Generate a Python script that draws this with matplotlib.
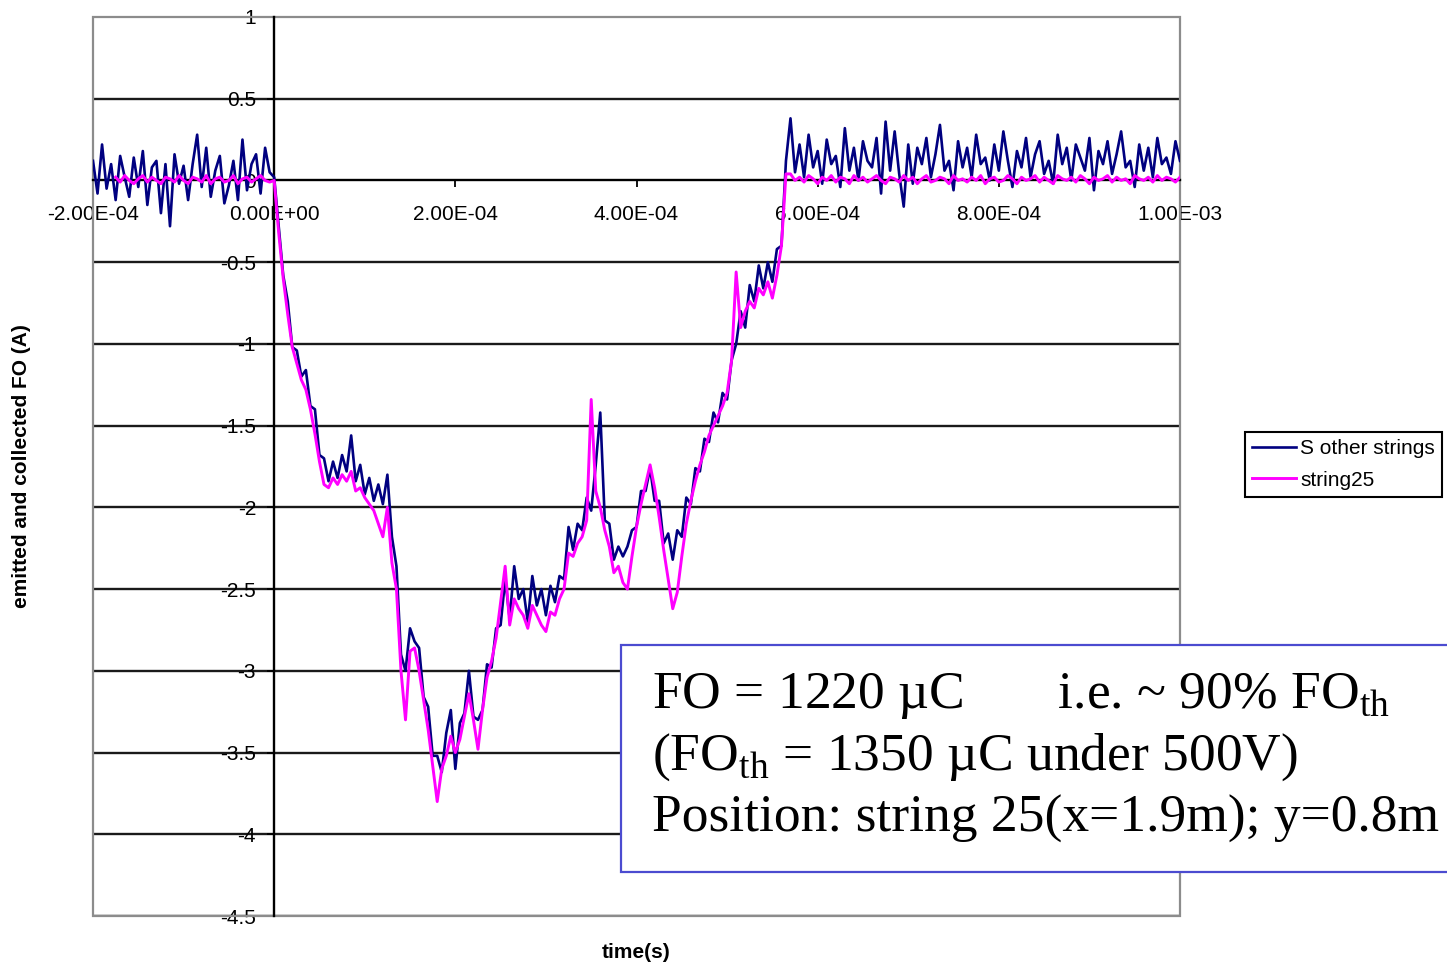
import numpy as np
import matplotlib
matplotlib.use("Agg")
import matplotlib.pyplot as plt
from matplotlib.patches import Rectangle
from matplotlib.ticker import FuncFormatter

plt.rcParams['font.family'] = ['Liberation Sans', 'DejaVu Sans']
plt.rcParams['axes.unicode_minus'] = False
plt.rcParams['mathtext.fontset'] = 'custom'
plt.rcParams['mathtext.rm'] = 'Liberation Serif'

# sample step of the scope trace (s)
STEP = 5e-6

# "S other strings" (navy)
blue_pre_t0 = -2e-4
blue_pre = [0.12, -0.08, 0.22, -0.05, 0.10, -0.12, 0.15, 0.02, -0.10, 0.14,
            -0.04, 0.18, -0.15, 0.08, 0.12, -0.20, 0.10, -0.28, 0.16, -0.02,
            0.09, -0.12, 0.10, 0.28, -0.04, 0.20, -0.10, 0.06, 0.15, -0.14,
            -0.03, 0.12, -0.12, 0.25, -0.06, 0.10, 0.16, -0.08, 0.20, 0.05]
blue_dip_t0 = 0.0
blue_dip = [0.02, -0.28, -0.58, -0.74, -1.02, -1.04, -1.20, -1.16, -1.38, -1.40,
            -1.68, -1.70, -1.84, -1.72, -1.82, -1.68, -1.78, -1.56, -1.84, -1.74,
            -1.92, -1.82, -1.96, -1.86, -1.98, -1.80, -2.18, -2.36, -2.90, -3.00,
            -2.74, -2.82, -2.86, -3.16, -3.22, -3.52, -3.52, -3.62, -3.38, -3.24,
            -3.60, -3.32, -3.26, -3.00, -3.28, -3.30, -3.24, -2.96, -2.98, -2.74,
            -2.72, -2.44, -2.68, -2.36, -2.56, -2.50, -2.70, -2.42, -2.60, -2.50,
            -2.66, -2.48, -2.58, -2.42, -2.44, -2.12, -2.26, -2.10, -2.14, -1.94,
            -2.02, -1.74, -1.42, -2.08, -2.10, -2.32, -2.24, -2.30, -2.24, -2.14,
            -2.12, -1.90, -1.90, -1.76, -1.96, -1.96, -2.22, -2.16, -2.32, -2.14,
            -2.18, -1.94, -1.98, -1.76, -1.78, -1.58, -1.60, -1.42, -1.48, -1.30,
            -1.34, -1.10, -1.00, -0.80, -0.90, -0.64, -0.74, -0.52, -0.66, -0.50,
            -0.62, -0.42, -0.40, 0.12]
blue_post_t0 = 5.7e-4
blue_post = [0.38, 0.05, 0.22, 0.02, 0.28, 0.08, 0.18, -0.02, 0.25, 0.10,
             0.15, -0.04, 0.32, 0.06, 0.20, 0.00, 0.24, 0.12, 0.08, 0.26,
             -0.08, 0.36, 0.06, 0.30, 0.04, -0.16, 0.22, -0.02, 0.20, 0.10,
             0.26, 0.02, 0.16, 0.34, 0.06, 0.12, -0.06, 0.24, 0.08, 0.20,
             0.02, 0.28, 0.10, 0.14, 0.00, 0.22, 0.06, 0.30, 0.12, -0.04,
             0.18, 0.08, 0.26, 0.02, 0.16, 0.24, 0.04, 0.12, -0.02, 0.28,
             0.10, 0.20, 0.00, 0.22, 0.14, 0.06, 0.26, -0.06, 0.18, 0.10,
             0.24, 0.04, 0.16, 0.30, 0.08, 0.12, -0.04, 0.22, 0.06, 0.20,
             0.02, 0.26, 0.10, 0.14, 0.04, 0.24, 0.12]

# "string25" (magenta)
mag_pre_t0 = -1.75e-4
mag_pre = [0.02, -0.01, 0.03, 0.00, -0.02, 0.01, 0.03, -0.01, 0.02, 0.00,
           -0.02, 0.02, 0.01, -0.01, 0.03, 0.00, -0.02, 0.02, 0.01, -0.01,
           0.03, -0.02, 0.01, 0.02, -0.01, 0.00, 0.03, -0.02, 0.01, 0.02,
           -0.01, 0.01, 0.03, 0.00, -0.01]
mag_dip_t0 = 0.0
mag_dip = [0.00, -0.32, -0.60, -0.82, -1.02, -1.12, -1.22, -1.28, -1.40, -1.55,
           -1.72, -1.86, -1.88, -1.82, -1.86, -1.80, -1.84, -1.78, -1.90, -1.88,
           -1.94, -1.98, -2.02, -2.10, -2.18, -2.00, -2.34, -2.50, -3.00, -3.30,
           -2.88, -2.86, -3.00, -3.18, -3.36, -3.58, -3.80, -3.60, -3.52, -3.40,
           -3.50, -3.42, -3.28, -3.14, -3.30, -3.48, -3.24, -3.04, -2.94, -2.80,
           -2.58, -2.36, -2.72, -2.56, -2.62, -2.66, -2.74, -2.60, -2.66, -2.72,
           -2.76, -2.64, -2.66, -2.56, -2.50, -2.28, -2.30, -2.22, -2.18, -2.08,
           -1.34, -1.90, -2.00, -2.14, -2.24, -2.40, -2.36, -2.46, -2.50, -2.30,
           -2.12, -1.98, -1.86, -1.74, -1.88, -2.06, -2.26, -2.44, -2.62, -2.52,
           -2.30, -2.10, -1.96, -1.84, -1.74, -1.66, -1.56, -1.50, -1.44, -1.38,
           -1.30, -1.10, -0.56, -0.90, -0.80, -0.74, -0.78, -0.66, -0.70, -0.62,
           -0.72, -0.58, -0.40, 0.04]
mag_post_t0 = 5.7e-4
mag_post = [0.04, 0.00, 0.02, -0.01, 0.03, 0.01, -0.02, 0.02, 0.00, 0.03,
            -0.01, 0.02, 0.01, -0.02, 0.03, 0.00, 0.02, -0.01, 0.01, 0.03,
            0.00, -0.02, 0.02, 0.01, -0.01, 0.03, 0.00, 0.02, -0.02, 0.01,
            0.03, -0.01, 0.00, 0.02, 0.01, -0.02, 0.03, 0.00, 0.01, -0.01,
            0.02, 0.00, 0.03, -0.02, 0.01, 0.02, -0.01, 0.00, 0.03, 0.01,
            -0.02, 0.02, 0.00, 0.01, 0.03, -0.01, 0.02, 0.00, -0.02, 0.03,
            0.01, 0.00, 0.02, -0.01, 0.03, 0.01, -0.02, 0.02, 0.00, 0.01,
            0.03, -0.01, 0.02, 0.00, 0.01, -0.02, 0.03, 0.01, 0.00, 0.02,
            -0.01, 0.03, 0.00, 0.02, 0.01, -0.01, 0.02]

y_ticks = [1, 0.5, 0, -0.5, -1, -1.5, -2, -2.5, -3, -3.5, -4, -4.5]
x_ticks = [-2e-4, 0, 2e-4, 4e-4, 6e-4, 8e-4, 1e-3]


def join_segments(segments):
    ts, vs = [], []
    for t0, vals in segments:
        ts.append(t0 + STEP * np.arange(len(vals)))
        vs.append(np.array(vals))
    return np.concatenate(ts), np.concatenate(vs)


t_blue, v_blue = join_segments([(blue_pre_t0, blue_pre), (blue_dip_t0, blue_dip),
                                (blue_post_t0, blue_post)])
t_mag, v_mag = join_segments([(mag_pre_t0, mag_pre), (mag_dip_t0, mag_dip),
                              (mag_post_t0, mag_post)])

fig = plt.figure(figsize=(14.47, 9.66), dpi=100)
ax = fig.add_axes([93 / 1447, 50 / 966, 1087 / 1447, 899 / 966])

ax.plot(t_blue, v_blue, color='#000080', lw=1.9, label='S other strings', zorder=3)
ax.plot(t_mag, v_mag, color='#ff00ff', lw=2.1, label='string25', zorder=4)

ax.set_xlim(-2e-4, 1e-3)
ax.set_ylim(-4.5, 1)

for y in y_ticks:
    if y != 0 and y != 1:
        ax.axhline(y, color='#1a1a1a', lw=1.7, zorder=1)

ax.spines['left'].set_position(('data', 0))
ax.spines['bottom'].set_position(('data', 0))
for s in ['left', 'bottom']:
    ax.spines[s].set_color('black')
    ax.spines[s].set_linewidth(1.7)
    ax.spines[s].set_zorder(2)
ax.spines['top'].set_visible(False)
ax.spines['right'].set_visible(False)
ax.add_patch(Rectangle((0, 0), 1, 1, transform=ax.transAxes, fill=False,
                       edgecolor='#8c8c8c', lw=1.6, zorder=2, clip_on=False))

ax.set_xticks(x_ticks)
ax.set_yticks(y_ticks)
ax.xaxis.set_major_formatter(FuncFormatter(lambda v, p: '%.2E' % v))
ax.yaxis.set_major_formatter(FuncFormatter(lambda v, p: '%g' % v))
ax.tick_params(axis='x', direction='out', length=5, width=1.3, pad=13, labelsize=15)
ax.tick_params(axis='y', direction='out', length=5, width=1.3, pad=8, labelsize=15)

fig.text(22 / 1447, 1 - 466 / 966, 'emitted and collected FO (A)', rotation=90,
         ha='center', va='center', fontsize=15, fontweight='bold')
fig.text(636 / 1447, 1 - 952 / 966, 'time(s)', ha='center', va='center',
         fontsize=15, fontweight='bold')

fig.legend(loc='upper left', bbox_to_anchor=(1245 / 1447, 1 - 432 / 966),
           borderaxespad=0, fontsize=15, frameon=True, fancybox=False,
           edgecolor='black', framealpha=1, handlelength=2.1, handletextpad=0.2,
           borderpad=0.35, labelspacing=0.6).get_frame().set_linewidth(1.5)

# note box
fig.patches.append(Rectangle((621 / 1447, 1 - 872 / 966), 0.6, 227 / 966,
                             transform=fig.transFigure, facecolor='white',
                             edgecolor='#4b4bd0', lw=1.6, zorder=5))
note_lines = ['FO = 1220 \u00b5C       i.e. ~ 90% FO$_{\\mathrm{th}}$',
              '(FO$_{\\mathrm{th}}$ = 1350 \u00b5C under 500V)',
              'Position: string 25(x=1.9m); y=0.8m']
for line, base in zip(note_lines, [708, 770, 832]):
    fig.text(652 / 1447, 1 - base / 966, line, family='Liberation Serif',
             fontsize=38.5, ha='left', va='baseline', zorder=6)

fig.savefig('out.png', dpi=100)
